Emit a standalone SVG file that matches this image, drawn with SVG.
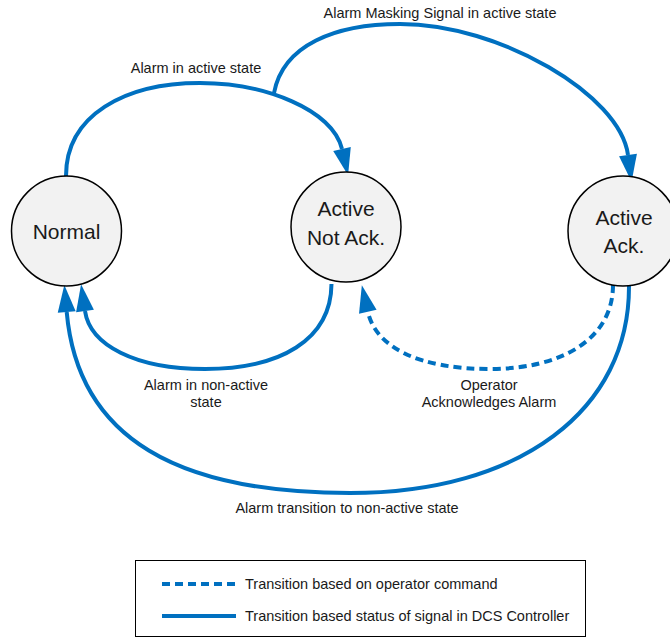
<svg xmlns="http://www.w3.org/2000/svg" width="670" height="639" viewBox="0 0 670 639">
  <style>
    .state { fill: #F2F2F2; stroke: #000; stroke-width: 1.5; }
    .state-label { font-family: "Liberation Sans", Arial, sans-serif; font-size: 21px; fill: #1a1a1a; text-anchor: middle; }
    .edge-label { font-family: "Liberation Sans", Arial, sans-serif; font-size: 14.5px; fill: #1a1a1a; text-anchor: middle; }
    .legend-label { font-family: "Liberation Sans", Arial, sans-serif; font-size: 14.5px; fill: #1a1a1a; }
    .signal { fill: none; stroke: #0070C0; stroke-width: 4; }
    .operator { fill: none; stroke: #0070C0; stroke-width: 4; stroke-dasharray: 8 5; }
    .arrow-end { marker-end: url(#arrowhead); }
  </style>
  <defs>
    <marker id="arrowhead" markerUnits="userSpaceOnUse" markerWidth="27" markerHeight="18" refX="0" refY="9" orient="auto" overflow="visible">
      <path d="M0,0 L27,9 L0,18 Z" fill="#0070C0"/>
    </marker>
  </defs>

  <!-- transitions -->
  <g id="connectors">
    <!-- Normal -> Active Not Ack. -->
    <path class="signal arrow-end" d="M66,176 C66,115 125,83 200,83 C265,83 333,110 342,149"/>
    <!-- Masking branch -> Active Ack. -->
    <path class="signal arrow-end" d="M274,93 C283,45 335,24 400,24 C500,24 620,95 628,155"/>
    <!-- Active Not Ack. -> Normal -->
    <path class="signal arrow-end" d="M331.5,284 C331,340 280,369 205,369 C135,369 90,345 85,311"/>
    <!-- Active Ack. -> Normal -->
    <path class="signal arrow-end" d="M629,285 C630,410 520,493 350,493 C180,493 78,440 66.7,312"/>
    <!-- Active Ack. -> Active Not Ack. (operator) -->
    <path class="operator arrow-end" d="M613,285 C613,340 560,369 490,369 C420,369 376,348 367.8,311.7"/>
  </g>

  <g id="edge-labels">
    <text class="edge-label" x="196" y="73">Alarm in active state</text>
    <text class="edge-label" x="440" y="18">Alarm Masking Signal in active state</text>
    <text class="edge-label" x="206" y="390">Alarm in non-active</text>
    <text class="edge-label" x="206" y="407">state</text>
    <text class="edge-label" x="489" y="390">Operator</text>
    <text class="edge-label" x="489" y="407">Acknowledges Alarm</text>
    <text class="edge-label" x="347" y="513">Alarm transition to non-active state</text>
  </g>

  <!-- states -->
  <g id="normal">
    <circle class="state" cx="66.5" cy="231" r="55"/>
    <text class="state-label" x="66.5" y="239">Normal</text>
  </g>
  <g id="active-not-ack">
    <circle class="state" cx="346" cy="227" r="55"/>
    <text class="state-label" x="346" y="216">Active</text>
    <text class="state-label" x="346" y="245">Not Ack.</text>
  </g>
  <g id="active-ack">
    <circle class="state" cx="623" cy="231" r="55"/>
    <text class="state-label" x="624" y="225">Active</text>
    <text class="state-label" x="624" y="253">Ack.</text>
  </g>

  <!-- legend -->
  <g id="legend">
    <rect x="135.5" y="560.5" width="450" height="76" fill="#fff" stroke="#000" stroke-width="1"/>
    <line class="operator" x1="162" y1="584" x2="236" y2="584"/>
    <text class="legend-label" x="245" y="589">Transition based on operator command</text>
    <line class="signal" x1="162" y1="616" x2="236" y2="616"/>
    <text class="legend-label" x="245" y="621">Transition based status of signal in DCS Controller</text>
  </g>
</svg>
